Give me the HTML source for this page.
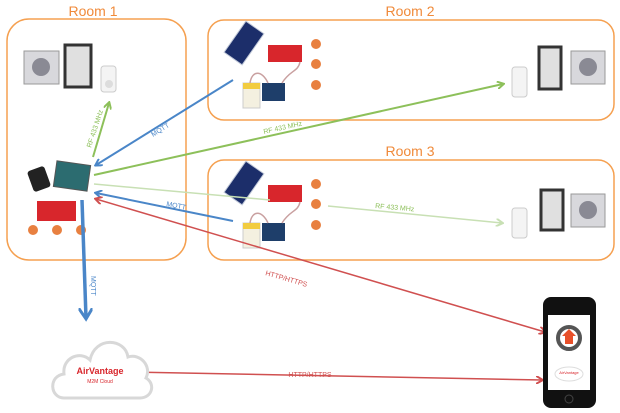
<!DOCTYPE html>
<html><head><meta charset="utf-8"><style>
html,body{margin:0;padding:0;background:#fff;}
svg{display:block;font-family:"Liberation Sans",sans-serif;}
</style></head><body>
<svg width="620" height="413" viewBox="0 0 620 413" xmlns="http://www.w3.org/2000/svg">
<defs>
<marker id="ag" markerWidth="8" markerHeight="8" refX="6" refY="4" orient="auto" markerUnits="userSpaceOnUse"><path d="M0,0 L7,4 L0,8" fill="none" stroke="#8dc05a" stroke-width="2"/></marker>
<marker id="alg" markerWidth="8" markerHeight="8" refX="6" refY="4" orient="auto" markerUnits="userSpaceOnUse"><path d="M0,0 L7,4 L0,8" fill="none" stroke="#c8e0b4" stroke-width="2"/></marker>
<marker id="ab" markerWidth="8" markerHeight="8" refX="6" refY="4" orient="auto" markerUnits="userSpaceOnUse"><path d="M0,0 L7,4 L0,8" fill="none" stroke="#4a86c8" stroke-width="2"/></marker>
<marker id="abb" markerWidth="14" markerHeight="14" refX="10" refY="7" orient="auto" markerUnits="userSpaceOnUse"><path d="M0,0 L11,7 L0,14" fill="none" stroke="#4a86c8" stroke-width="3"/></marker>
<marker id="ar" markerWidth="8" markerHeight="8" refX="6" refY="4" orient="auto-start-reverse" markerUnits="userSpaceOnUse"><path d="M0,0 L7,4 L0,8" fill="none" stroke="#d05050" stroke-width="2"/></marker>
<g id="node">
 <rect x="233" y="24" width="22" height="38" transform="rotate(35 244 43)" fill="#1c2e6a" stroke="#c0c8d8" stroke-width="1"/>
 <rect x="268" y="45" width="34" height="17" fill="#d8262c"/>
 <circle cx="316" cy="44" r="5" fill="#e88040"/><circle cx="316" cy="64" r="5" fill="#e88040"/><circle cx="316" cy="85" r="5" fill="#e88040"/>
 <rect x="243" y="83" width="17" height="25" fill="#f4f0e0" stroke="#ccc"/><rect x="243" y="83" width="17" height="6" fill="#f2cc40"/>
 <rect x="262" y="83" width="23" height="18" fill="#1e3e6a"/>
 <path d="M250,83 C252,70 262,70 268,83 M282,83 C290,70 298,72 300,62" fill="none" stroke="#c9a0a0" stroke-width="1.5"/>
</g>
</defs>
<!-- rooms -->
<rect x="7" y="19" width="179" height="241" rx="22" fill="none" stroke="#f5a050" stroke-width="1.5"/>
<rect x="208" y="20" width="406" height="100" rx="16" fill="none" stroke="#f5a050" stroke-width="1.5"/>
<rect x="208" y="160" width="406" height="100" rx="16" fill="none" stroke="#f5a050" stroke-width="1.5"/>
<text x="93" y="16" font-size="14" fill="#f08a3a" text-anchor="middle">Room 1</text>
<text x="410" y="16" font-size="14" fill="#f08a3a" text-anchor="middle">Room 2</text>
<text x="410" y="156" font-size="14" fill="#f08a3a" text-anchor="middle">Room 3</text>
<!-- room nodes -->
<use href="#node"/>
<use href="#node" transform="translate(0,140)"/>
<!-- room1 devices -->
<rect x="24" y="51" width="35" height="33" fill="#d8d8dc" stroke="#999"/><circle cx="41" cy="67" r="9" fill="#8a8a94"/>
<rect x="65" y="45" width="26" height="42" fill="#e0e0e0" stroke="#333" stroke-width="3"/>
<rect x="101" y="66" width="15" height="26" rx="3" fill="#f4f4f4" stroke="#ccc"/><circle cx="109" cy="84" r="4" fill="#ddd"/>
<!-- room2/3 actuators -->
<rect x="512" y="67" width="15" height="30" rx="3" fill="#f4f4f4" stroke="#ccc"/>
<rect x="539" y="47" width="22" height="42" fill="#e0e0e0" stroke="#333" stroke-width="3"/>
<rect x="571" y="51" width="34" height="33" fill="#d8d8dc" stroke="#999"/><circle cx="588" cy="67" r="9" fill="#8a8a94"/>
<rect x="512" y="208" width="15" height="30" rx="3" fill="#f4f4f4" stroke="#ccc"/>
<rect x="541" y="190" width="22" height="40" fill="#e0e0e0" stroke="#333" stroke-width="3"/>
<rect x="571" y="194" width="34" height="33" fill="#d8d8dc" stroke="#999"/><circle cx="588" cy="210" r="9" fill="#8a8a94"/>
<!-- hub -->
<rect x="30" y="168" width="18" height="22" rx="3" fill="#222" transform="rotate(-20 39 179)"/>
<rect x="55" y="163" width="34" height="26" fill="#2c6c70" stroke="#555" transform="rotate(8 72 176)"/>
<rect x="37" y="201" width="39" height="20" fill="#d8262c"/>
<circle cx="33" cy="230" r="5" fill="#e88040"/><circle cx="57" cy="230" r="5" fill="#e88040"/><circle cx="81" cy="230" r="5" fill="#e88040"/>
<!-- connectors -->
<line x1="93" y1="157" x2="109" y2="103" stroke="#8dc05a" stroke-width="2" marker-end="url(#ag)"/>
<text font-size="7" fill="#8dc05a" transform="translate(91,148) rotate(-72)">RF 433 MHz</text>
<line x1="233" y1="80" x2="96" y2="165" stroke="#4a86c8" stroke-width="2" marker-end="url(#ab)"/>
<text font-size="7" fill="#4a86c8" transform="translate(153,137) rotate(-32)">MQTT</text>
<line x1="94" y1="175" x2="503" y2="84" stroke="#8dc05a" stroke-width="2" marker-end="url(#ag)"/>
<text font-size="7" fill="#8dc05a" transform="translate(264,134) rotate(-12.5)">RF 433 MHz</text>
<line x1="94" y1="184" x2="270" y2="200" stroke="#c8e0b4" stroke-width="1.5"/>
<line x1="328" y1="206" x2="502" y2="223" stroke="#c8e0b4" stroke-width="1.5" marker-end="url(#alg)"/>
<text font-size="7" fill="#8dc05a" transform="translate(375,208) rotate(5)">RF 433 MHz</text>
<line x1="233" y1="221" x2="96" y2="193" stroke="#4a86c8" stroke-width="2" marker-end="url(#ab)"/>
<text font-size="7" fill="#4a86c8" transform="translate(166,206) rotate(11)">MQTT</text>
<line x1="96" y1="199" x2="545" y2="332" stroke="#d05050" stroke-width="1.5" marker-start="url(#ar)" marker-end="url(#ar)"/>
<text font-size="7" fill="#d05050" transform="translate(265,275) rotate(16)">HTTP/HTTPS</text>
<line x1="82" y1="200" x2="86" y2="318" stroke="#4a86c8" stroke-width="3.5" marker-end="url(#abb)"/>
<text font-size="7" fill="#4a86c8" transform="translate(91,276) rotate(90)">MQTT</text>
<line x1="130" y1="372" x2="542" y2="380" stroke="#d05050" stroke-width="1.5" marker-start="url(#ar)" marker-end="url(#ar)"/>
<text font-size="7" fill="#d05050" x="310" y="377" text-anchor="middle">HTTP/HTTPS</text>
<!-- cloud -->
<path d="M64,398 C50,398 48,376 64,374 C62,358 80,350 90,360 C95,336 125,338 128,357 C140,353 152,366 146,378 C156,384 152,398 140,398 Z" fill="#fff" stroke="#d8d8d8" stroke-width="3"/>
<text x="100" y="374" font-size="9" font-weight="bold" fill="#d8262c" text-anchor="middle">AirVantage</text>
<text x="100" y="383" font-size="5" fill="#d8262c" text-anchor="middle">M2M Cloud</text>
<!-- phone -->
<rect x="543" y="297" width="53" height="111" rx="8" fill="#111"/>
<rect x="548" y="315" width="42" height="75" fill="#fff"/>
<circle cx="569" cy="338" r="11" fill="none" stroke="#555" stroke-width="4"/>
<path d="M569,329 L576,336 L573,336 L573,344 L565,344 L565,336 L562,336 Z" fill="#e8502a"/>
<ellipse cx="569" cy="374" rx="14" ry="7" fill="#fff" stroke="#ddd"/>
<text x="569" y="374" font-size="4" fill="#d8262c" text-anchor="middle">AirVantage</text>
<circle cx="569" cy="399" r="4" fill="none" stroke="#444"/>
</svg>
</body></html>
